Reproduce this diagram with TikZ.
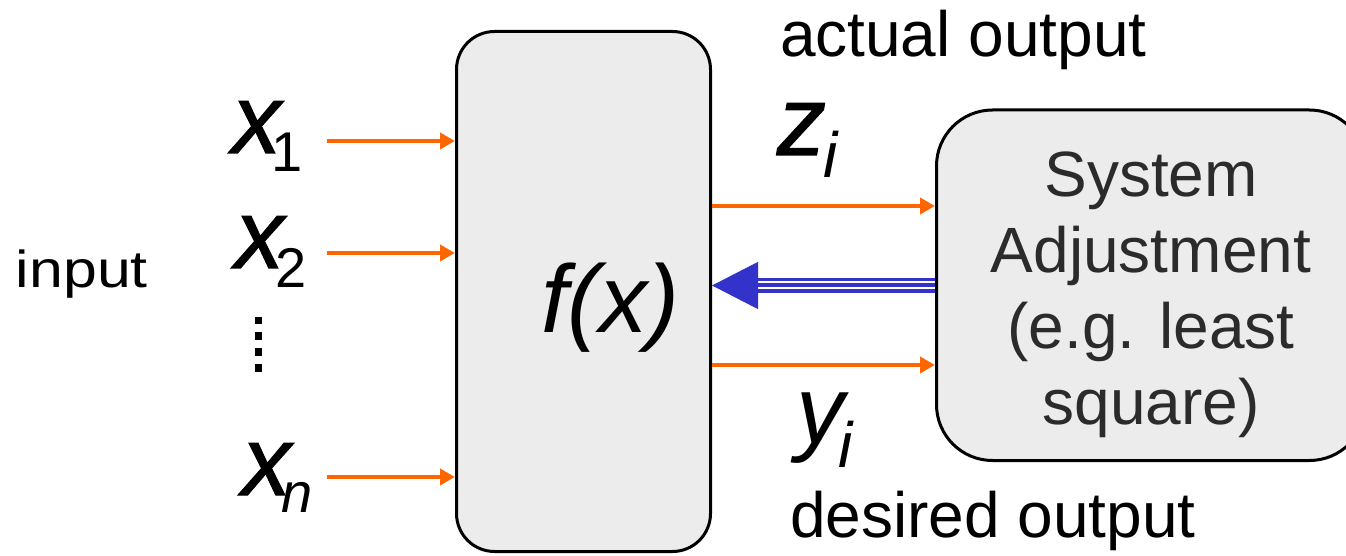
\documentclass[tikz,border=0pt]{standalone}
\usepackage{fontspec}
\setmainfont{Liberation Sans}
\newfontfamily\inputfont[FakeStretch=1.17]{Liberation Sans}
\newfontfamily\heavyfont[FakeBold=1.1]{Liberation Sans}
\usetikzlibrary{arrows.meta}
\definecolor{orng}{HTML}{FF6600}
\definecolor{bluearr}{HTML}{3333CC}
\definecolor{boxgray}{HTML}{ECECEC}
\definecolor{txtgray}{HTML}{2B2B2B}
\newcommand\biglab{\fontsize{48}{58}\selectfont\itshape}
\newcommand\heavylab{\heavyfont\fontsize{49}{58}\selectfont\itshape}
\newcommand\sublab{\normalfont\fontsize{28}{34}\selectfont}
\newcommand\isub{\normalfont\fontsize{32}{38}\selectfont\itshape}
\begin{document}
\begin{tikzpicture}[x=0.5pt,y=-0.5pt,
  blk/.style={draw=black, line width=1.5pt, fill=boxgray, inner sep=0pt},
  oarrow/.style={draw=orng, line width=2pt, -{Triangle[length=7.5pt,width=8pt]}},
  lbl/.style={anchor=base west, inner sep=0pt, outer sep=0pt},
  txt/.style={font=\fontsize{32}{38}\selectfont},
]
\useasboundingbox (0,0) rectangle (1346,556);
% blocks
\node[blk, rounded corners=19pt, minimum width=127pt, minimum height=260pt] (fx) at (583.5,291.5) {};
\node[blk, rounded corners=28pt, minimum width=214.5pt, minimum height=175.25pt] (sys) at (1151,285.25) {};
\node[txt, text=txtgray, align=center, inner sep=0pt] (systxt) at (1151,295) {System\\Adjustment\\(e.g. least\\square)};
\node[lbl] (fxlbl) at (541,332) {\biglab f(x)};
% labels
\node[lbl, font=\inputfont\fontsize{26}{32}\selectfont] (inp) at (16,287) {input};
\node[lbl, txt] (act) at (780,57) {actual output};
\node[lbl, txt] (des) at (790,537) {desired output};
\node[lbl] (x1) at (232,153) {\heavylab x\hspace{-5pt}\raisebox{-9.5pt}{\sublab 1}};
\node[lbl] (x2) at (235,268) {\heavylab x\hspace{-4.5pt}\raisebox{-9.5pt}{\sublab 2}};
\node[lbl] (xn) at (242,495) {\heavylab x\hspace{-5pt}\raisebox{-8.5pt}{\sublab\itshape n}};
\node[lbl] (zi) at (777,155) {\heavylab z\hspace{-1.5pt}\raisebox{-11.5pt}{\isub i}};
\node[lbl] (yi) at (796,444) {\biglab y\hspace{-3pt}\raisebox{-12pt}{\isub i}};
% vertical dots
\foreach \yy in {320.5,336,352,368} \fill (254.5,\yy-3.75) rectangle ++(7.5,7.5);
% orange arrows
\coordinate (a1) at (327,141);
\coordinate (a2) at (327,253);
\coordinate (an) at (327,477);
\coordinate (zc) at (0,206);
\coordinate (yc) at (0,365);
\coordinate (bc) at (0,285.5);
\draw[oarrow] (a1) -- (a1 -| fx.west);
\draw[oarrow] (a2) -- (a2 -| fx.west);
\draw[oarrow] (an) -- (an -| fx.west);
\draw[oarrow] (fx.east |- zc) -- (sys.west |- zc);
\draw[oarrow] (fx.east |- yc) -- (sys.west |- yc);
% blue triple arrow
\draw[bluearr, line width=7.5pt, shorten >=22pt] (sys.west |- bc) -- (fx.east |- bc);
\draw[white, line width=1pt, double=bluearr, double distance=2pt, shorten >=22pt] (sys.west |- bc) -- (fx.east |- bc);
\draw[bluearr, line width=0.5pt, -{Triangle[length=23pt,width=23.5pt]}] (sys.west |- bc) -- (fx.east |- bc);
\end{tikzpicture}
\end{document}
